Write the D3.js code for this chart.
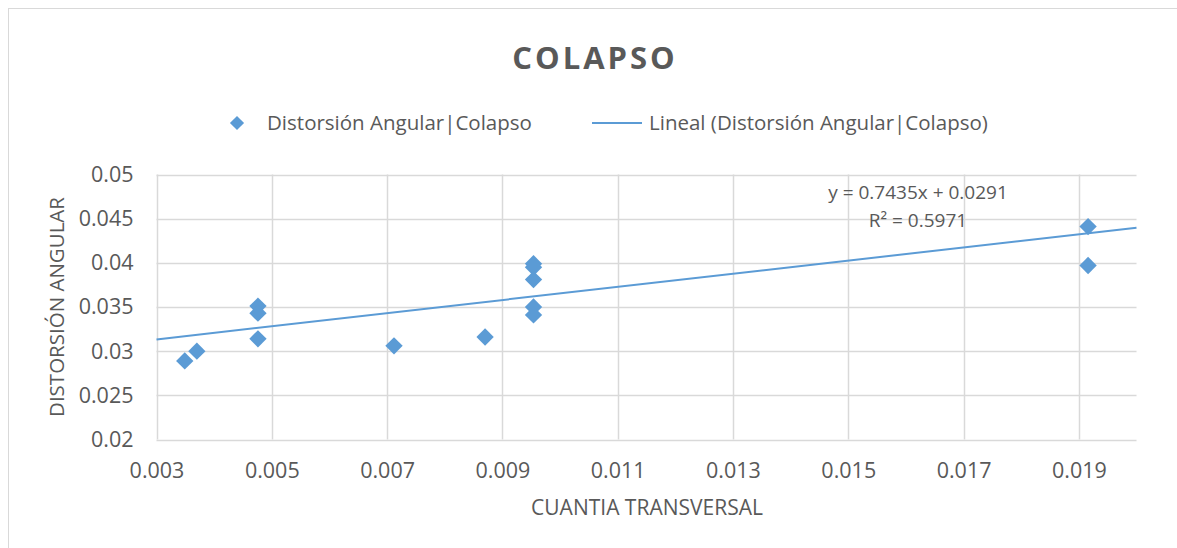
<!DOCTYPE html>
<html>
<head>
<meta charset="utf-8">
<script src="https://cdn.jsdelivr.net/npm/d3@7"></script>
<style>
  body { margin: 0; background: #fff; }
  text { font-family: "Open Sans", sans-serif; fill: #595959; }
</style>
</head>
<body>
<div id="chart"></div>
<script>
// cuantia transversal vs distorsion angular (colapso)
var cuantia = [0.00349, 0.00370, 0.00476, 0.00476, 0.00476, 0.00712, 0.00870,
               0.00954, 0.00954, 0.00954, 0.00954, 0.00954, 0.01916, 0.01916];
var distorsion = [0.0289, 0.0300, 0.0351, 0.0343, 0.0314, 0.0306, 0.0316,
                  0.0399, 0.0395, 0.0381, 0.0350, 0.0341, 0.0441, 0.0397];

var xTicks = [0.003, 0.005, 0.007, 0.009, 0.011, 0.013, 0.015, 0.017, 0.019];
var yTicks = [0.02, 0.025, 0.03, 0.035, 0.04, 0.045, 0.05];

// linea de tendencia (ajuste lineal de excel)
var slope = 0.7435, intercept = 0.0291;
var eqLabel = "y = 0.7435x + 0.0291";
var r2Label = "R² = 0.5971";

var W = 1177, H = 548;
var blue = "#5B9BD5", grid = "#D9D9D9";

var svg = d3.select("#chart").append("svg")
    .attr("width", W)
    .attr("height", H);

// marco del grafico
svg.append("rect")
    .attr("x", 8.5).attr("y", 8.5)
    .attr("width", W + 20).attr("height", H + 20)
    .style("fill", "none")
    .style("stroke", grid)
    .style("stroke-width", 1);

var x = d3.scaleLinear().domain([0.003, 0.020]).range([156.5, 1136.5]);
var y = d3.scaleLinear().domain([0.02, 0.05]).range([439.5, 174.5]);

// grid
svg.append("g").selectAll("line").data(yTicks).join("line")
    .attr("x1", x(0.003)).attr("x2", x(0.020))
    .attr("y1", function(d) { return Math.round(y(d)) + 0.5 })
    .attr("y2", function(d) { return Math.round(y(d)) + 0.5 })
    .style("stroke", grid).style("stroke-width", 1.5);

svg.append("g").selectAll("line").data(xTicks).join("line")
    .attr("x1", function(d) { return Math.round(x(d)) + 0.5 })
    .attr("x2", function(d) { return Math.round(x(d)) + 0.5 })
    .attr("y1", y(0.05)).attr("y2", y(0.02))
    .style("stroke", grid).style("stroke-width", 1.5);

// ejes
var xAxis = svg.append("g")
    .attr("transform", "translate(0," + (y(0.02) + 8) + ")")
    .call(d3.axisBottom(x).tickValues(xTicks).tickFormat(d3.format(".3f")).tickSize(0).tickPadding(15));

var yAxis = svg.append("g")
    .attr("transform", "translate(" + (x(0.003) - 23) + ",0)")
    .call(d3.axisLeft(y).tickValues(yTicks).tickFormat(d3.format("~g")).tickSize(0).tickPadding(0));

[xAxis, yAxis].forEach(function(a) {
    a.select(".domain").remove();
    a.selectAll("text")
        .style("font-family", "'Open Sans', sans-serif")
        .style("font-size", "21.5px")
        .style("fill", "#595959");
});

// tendencia
svg.append("line")
    .attr("x1", x(0.003)).attr("y1", y(slope * 0.003 + intercept))
    .attr("x2", x(0.020)).attr("y2", y(slope * 0.020 + intercept))
    .style("stroke", blue).style("stroke-width", 2);

// puntos
var diamond = d3.symbol().type(d3.symbolSquare).size(150);
svg.append("g").selectAll("path").data(cuantia).join("path")
    .attr("d", diamond)
    .attr("transform", function(d, i) {
        return "translate(" + x(d) + "," + y(distorsion[i]) + ") rotate(45)";
    })
    .style("fill", blue);

// ecuacion
svg.append("text")
    .attr("x", 918).attr("y", 199)
    .attr("text-anchor", "middle")
    .style("font-size", "19px")
    .text(eqLabel);
svg.append("text")
    .attr("x", 918).attr("y", 227)
    .attr("text-anchor", "middle")
    .style("font-size", "19px")
    .text(r2Label);

// titulo
svg.append("text")
    .attr("x", 595).attr("y", 69)
    .attr("text-anchor", "middle")
    .style("font-size", "31px")
    .style("font-weight", "bold")
    .style("letter-spacing", "3px")
    .text("COLAPSO");

// leyenda
svg.append("path")
    .attr("d", d3.symbol().type(d3.symbolSquare).size(100))
    .attr("transform", "translate(237,123) rotate(45)")
    .style("fill", blue);
svg.append("text")
    .attr("x", 267).attr("y", 130)
    .style("font-size", "20.5px")
    .text("Distorsión Angular|Colapso");

svg.append("line")
    .attr("x1", 592).attr("x2", 642)
    .attr("y1", 123).attr("y2", 123)
    .style("stroke", blue).style("stroke-width", 2);
svg.append("text")
    .attr("x", 649).attr("y", 130)
    .style("font-size", "20.5px")
    .text("Lineal (Distorsión Angular|Colapso)");

// titulos de ejes
svg.append("text")
    .attr("x", 647).attr("y", 515)
    .attr("text-anchor", "middle")
    .style("font-size", "21px")
    .text("CUANTIA TRANSVERSAL");

svg.append("text")
    .attr("transform", "translate(64,307) rotate(-90)")
    .attr("text-anchor", "middle")
    .style("font-size", "20.5px")
    .text("DISTORSIÓN ANGULAR");
</script>
</body>
</html>
